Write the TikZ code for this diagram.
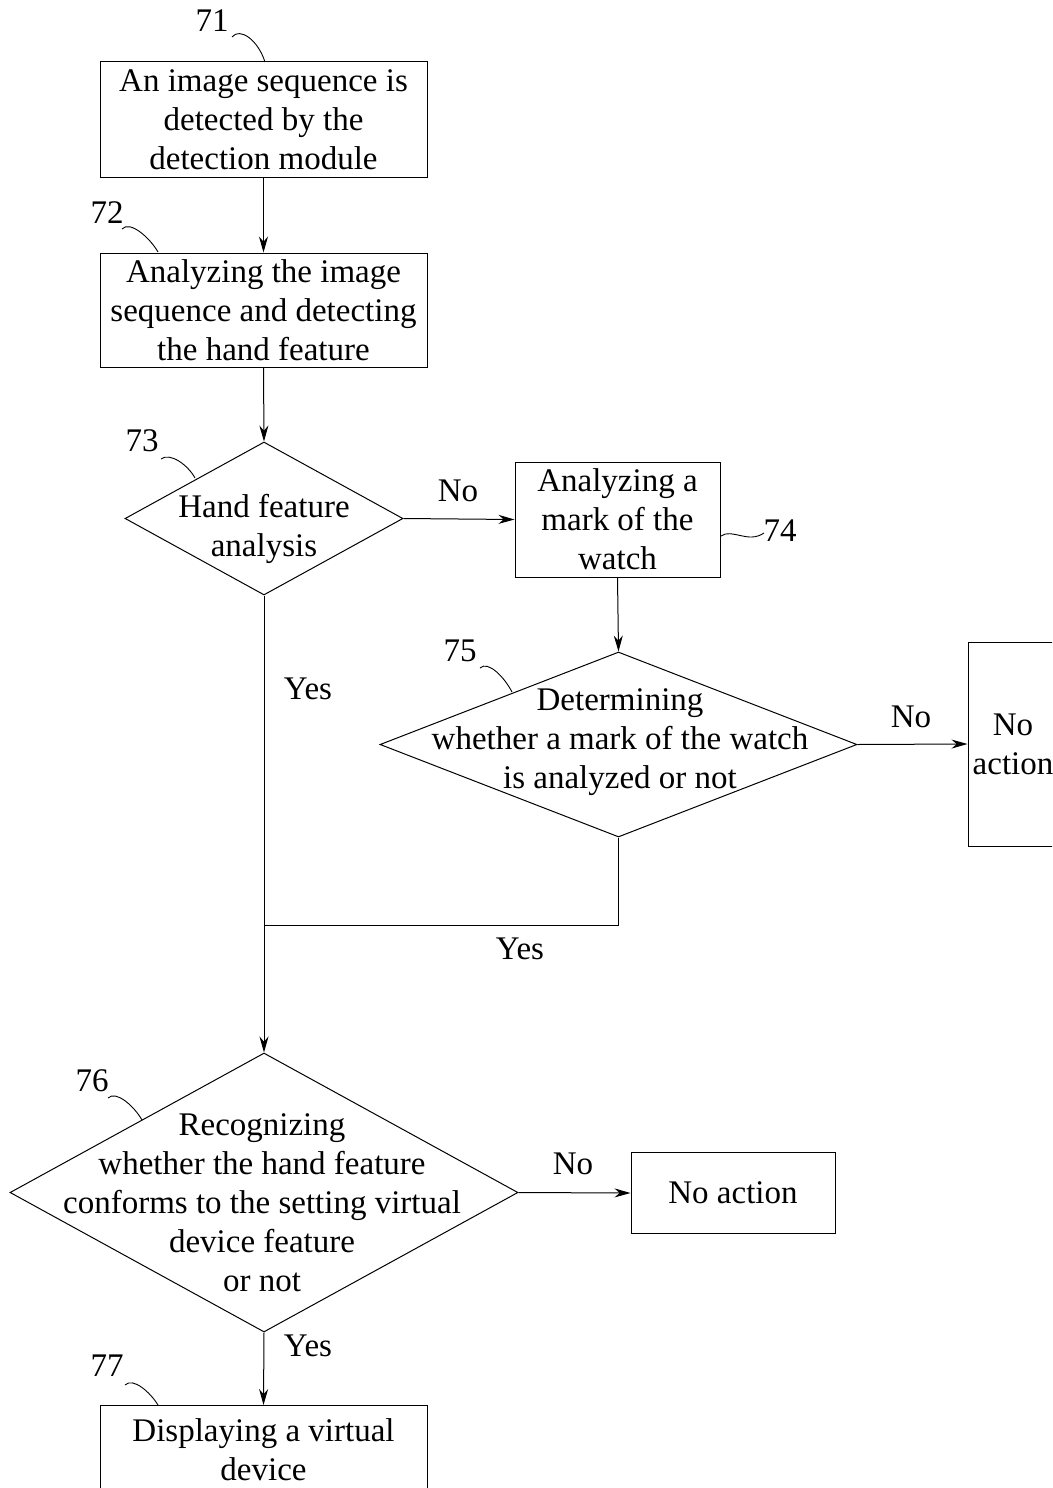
\documentclass[tikz,border=0pt]{standalone}
\usepackage{fontspec}
\setmainfont{Liberation Serif}
\usetikzlibrary{arrows.meta,shapes.geometric,calc}
\begin{document}
\begin{tikzpicture}[x=1pt,y=-1pt,
  line width=1pt,
  every node/.style={font=\fontsize{33}{39}\selectfont, inner sep=0pt},
  box/.style={draw, rectangle, align=center},
  dia/.style={draw, diamond, inner sep=0pt},
  txt/.style={align=center},
  flow/.style={-{Stealth[length=16pt,width=9pt]}},
  lead/.style={line width=0.9pt}
]
\useasboundingbox (0,0) rectangle (1052,1488);
\clip (0,0) rectangle (1052,1488);

% boxes
\node[box, minimum width=327pt, minimum height=115pt] (b71) at (263.5,119.5) {An image sequence is\\detected by the\\detection module};
\node[box, minimum width=327pt, minimum height=114pt] (b72) at (263.5,310) {Analyzing the image\\sequence and detecting\\the hand feature};
\node[box, minimum width=205pt, minimum height=115pt] (b74) at (617.5,519.5) {Analyzing a\\mark of the\\watch};
\node[box, minimum width=90pt, minimum height=204pt] (na1) at (1013,744) {No\\action};
\node[box, minimum width=204pt, minimum height=81pt] (na2) at (733,1193) {No action};
\node[box, minimum width=327pt, minimum height=115pt, anchor=north] (b77) at (263.5,1405) {};
\node[txt] (t77) at (263.5,1450) {Displaying a virtual\\device};

% diamonds
\node[dia, minimum width=278pt, minimum height=153pt] (d73) at (264,518.5) {};
\node[txt] (t73) at (264,529) {Hand feature\\analysis};
\node[dia, minimum width=477pt, minimum height=185pt] (d75) at (618.5,744.5) {};
\node[txt] (t75) at (620,742) {Determining\\whether a mark of the watch\\is analyzed or not};
\node[dia, minimum width=508pt, minimum height=279pt] (d76) at (264,1192.5) {};
\node[txt] (t76) at (262,1203) {Recognizing\\whether the hand feature\\conforms to the setting virtual\\device feature\\or not};

% connectors
\draw[flow] (b71.south) -- (b72.north);
\draw[flow] (b72.south) -- (d73.north);
\draw[flow] (d73.east) -- (b74.west);
\draw[flow] (b74.south) -- (d75.north);
\draw[flow] (d75.east) -- (na1.west);
\coordinate (j) at (263.5,925);
\draw (d75.south) -- (d75.south |- j) -- (j);
\draw[flow] (d73.south) -- (d76.north);
\draw[flow] (d76.east) -- (na2.west);
\draw[flow] (d76.south) -- (b77.north);

% branch labels
\node (n1) at (458,491) {No};
\node (y1) at (308,689) {Yes};
\node (n2) at (911,717) {No};
\node (y2) at (520,949) {Yes};
\node (n3) at (573,1164) {No};
\node (y3) at (308,1346) {Yes};

% reference numerals
\node (l71) at (212,21) {71};
\node (l72) at (107,213) {72};
\node (l73) at (142,441) {73};
\node (l74) at (780,531) {74};
\node (l75) at (460,651) {75};
\node (l76) at (92,1081) {76};
\node (l77) at (107,1366) {77};

% leader squiggles
\coordinate (s71a) at (232,37); \coordinate (s71b) at (265,62);
\coordinate (s72a) at (122,229); \coordinate (s72b) at (158,252);
\coordinate (s73a) at (161,459); \coordinate (s73b) at (195,478);
\coordinate (s74a) at (721,536); \coordinate (s74b) at (764,533);
\coordinate (s75a) at (480,668); \coordinate (s75b) at (512,692);
\coordinate (s76a) at (108,1098); \coordinate (s76b) at (142,1120);
\coordinate (s77a) at (125,1385); \coordinate (s77b) at (158,1405);
\draw[lead] (s71a) .. controls (240,27) and (258,40) .. (s71b);
\draw[lead] (s72a) .. controls (130,220) and (150,238) .. (s72b);
\draw[lead] (s73a) .. controls (170,452) and (188,465) .. (s73b);
\draw[lead] (s74a) .. controls (732,528) and (748,544) .. (s74b);
\draw[lead] (s75a) .. controls (488,660) and (505,678) .. (s75b);
\draw[lead] (s76a) .. controls (116,1090) and (134,1106) .. (s76b);
\draw[lead] (s77a) .. controls (133,1377) and (150,1392) .. (s77b);
\end{tikzpicture}
\end{document}
